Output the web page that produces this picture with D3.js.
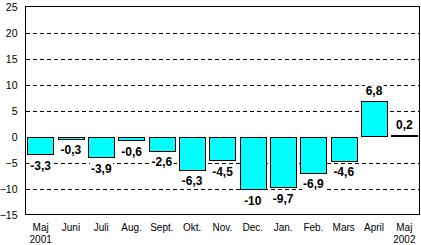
<!DOCTYPE html>
<html>
<head>
<meta charset="utf-8">
<script src="https://cdn.jsdelivr.net/npm/d3@7"></script>
<style>
  html, body { margin: 0; padding: 0; background: #fff; }
  svg { display: block; }
</style>
</head>
<body>
<div id="chart"></div>
<script>
// monthly change, May 2001 - May 2002
const months = ["Maj", "Juni", "Juli", "Aug.", "Sept.", "Okt.", "Nov.", "Dec.", "Jan.", "Feb.", "Mars", "April", "Maj"]
const years = ["2001", "", "", "", "", "", "", "", "", "", "", "", "2002"]
const values = [-3.3, -0.3, -3.9, -0.6, -2.6, -6.3, -4.5, -10, -9.7, -6.9, -4.6, 6.8, 0.2]
const yTicks = [-15, -10, -5, 0, 5, 10, 15, 20, 25]
const gridTicks = [-10, -5, 5, 10, 15, 20]

const width = 421, height = 245
const plot = { left: 25.5, right: 419.5, top: 6.5, bottom: 214.5 }

const svg = d3.select("#chart").append("svg")
    .attr("width", width)
    .attr("height", height)
    .attr("font-family", "'Liberation Sans', Arial, sans-serif")

const x = d3.scaleBand()
    .domain(d3.range(months.length))
    .range([plot.left, plot.right])
    .paddingInner(0.13)
    .paddingOuter(0.065)

const y = d3.scaleLinear()
    .domain([-15, 25])
    .range([plot.bottom, plot.top])

// dashed gridlines
svg.append("g")
    .attr("class", "grid")
  .selectAll("line")
  .data(gridTicks)
  .join("line")
    .attr("x1", plot.left)
    .attr("x2", plot.right)
    .attr("y1", d => Math.round(y(d)) + 0.5)
    .attr("y2", d => Math.round(y(d)) + 0.5)
    .attr("stroke", "#000")
    .attr("stroke-width", 1)
    .attr("stroke-dasharray", "4,3")
    .attr("shape-rendering", "crispEdges")

// plot frame
svg.append("rect")
    .attr("x", plot.left)
    .attr("y", plot.top)
    .attr("width", plot.right - plot.left)
    .attr("height", plot.bottom - plot.top)
    .attr("fill", "none")
    .attr("stroke", "#000")
    .attr("shape-rendering", "crispEdges")

// y axis labels, no tick marks
const yAxis = d3.axisLeft(y)
    .tickValues(yTicks)
    .tickSize(0)
    .tickPadding(8)

svg.append("g")
    .attr("transform", `translate(${plot.left},0)`)
    .call(yAxis)
    .call(g => g.select(".domain").remove())
    .call(g => g.selectAll("text")
        .attr("font-family", "'Liberation Sans', Arial, sans-serif")
        .attr("font-size", 10.5)
        .attr("fill", "#000")
        .attr("dy", "0.4em"))

// bars
svg.append("g")
    .attr("class", "bars")
  .selectAll("rect")
  .data(values)
  .join("rect")
    .attr("x", (d, i) => Math.round(x(i)) + 0.5)
    .attr("y", d => Math.round(y(Math.max(0, d))) + 0.5)
    .attr("width", Math.round(x.bandwidth()))
    .attr("height", d => Math.max(1, Math.round(Math.abs(y(d) - y(0)))))
    .attr("fill", "#00FFFF")
    .attr("stroke", "#000")
    .attr("stroke-width", 1)
    .attr("shape-rendering", "crispEdges")

// value labels with white background
const labels = svg.append("g")
    .attr("class", "labels")
    .attr("font-size", 12)
    .attr("font-weight", "bold")
    .attr("fill", "#000")
    .attr("text-anchor", "middle")

values.forEach((v, i) => {
    const cx = x(i) + x.bandwidth() / 2
    const by = v < 0 ? y(v) + 16 : y(v) - 6
    const lab = labels.append("g")
    const bg = lab.append("rect").attr("fill", "#fff")
    const t = lab.append("text")
        .attr("x", cx)
        .attr("y", by)
        .text(String(v).replace(".", ","))
    const bb = t.node().getBBox()
    bg.attr("x", bb.x - 1)
      .attr("y", by - 10)
      .attr("width", bb.width + 2)
      .attr("height", 12)
})

// category labels
const xl = svg.append("g")
    .attr("class", "x-labels")
    .attr("font-size", 10)
    .attr("fill", "#000")
    .attr("text-anchor", "middle")

months.forEach((m, i) => {
    const cx = x(i) + x.bandwidth() / 2
    xl.append("text").attr("x", cx).attr("y", 231).text(m)
    if (years[i]) xl.append("text").attr("x", cx).attr("y", 242.5).text(years[i])
})
</script>
</body>
</html>
